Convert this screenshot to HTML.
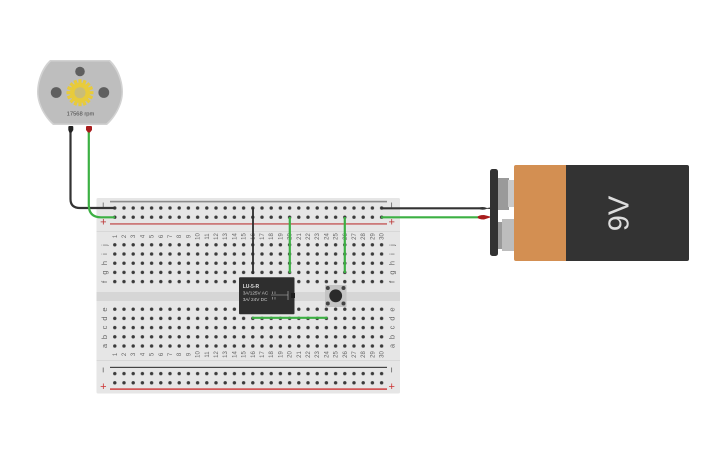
<!DOCTYPE html>
<html><head><meta charset="utf-8"><style>
html,body{margin:0;padding:0;background:#fff;width:725px;height:453px;overflow:hidden}
svg{display:block}
text{font-family:"Liberation Sans",sans-serif}
</style></head><body>
<svg width="725" height="453" viewBox="0 0 725 453" xmlns="http://www.w3.org/2000/svg">
<defs>
<pattern id="h" patternUnits="userSpaceOnUse" x="110.2" y="203.4" width="9.2" height="9.2">
<circle cx="4.6" cy="4.6" r="1.7" fill="#3a3a3a"/>
</pattern>
</defs>
<!-- breadboard -->
<rect x="96.5" y="198" width="303.5" height="195.5" rx="1.5" fill="#e6e6e6"/>
<rect x="96.5" y="292" width="303.5" height="9" fill="#d6d6d6"/>
<rect x="96.5" y="231" width="303.5" height="1" fill="#d8d8d8"/>
<rect x="96.5" y="360" width="303.5" height="1" fill="#d8d8d8"/>
<rect x="110" y="200.800" width="277" height="1.600" fill="#8a8a8a"/>
<rect x="110" y="223" width="277" height="1.800" fill="#cc7a7a"/>
<rect x="110" y="366.800" width="277" height="1.200" fill="#444"/>
<rect x="110" y="388.400" width="277" height="1.400" fill="#cc3333"/>
<rect x="110.200" y="203.400" width="276" height="18.400" fill="url(#h)"/>
<rect x="110.200" y="240.200" width="276" height="46" fill="url(#h)"/>
<rect x="110.200" y="304.600" width="276" height="46" fill="url(#h)"/>
<rect x="110.200" y="369" width="276" height="18.400" fill="url(#h)"/>
<g fill="#555" font-size="10" text-anchor="middle">
<text transform="translate(106.500,205) rotate(-90)">−</text>
<text transform="translate(395,205) rotate(-90)">−</text>
<text transform="translate(106.500,370) rotate(-90)">−</text>
<text transform="translate(395,370) rotate(-90)">−</text>
</g>
<g font-size="11" text-anchor="middle">
<text x="103.300" y="225.500" fill="#b33">+</text>
<text x="391.700" y="225.500" fill="#b33">+</text>
<text x="103.300" y="389.800" fill="#c33">+</text>
<text x="391.700" y="389.800" fill="#c33">+</text>
</g>
<g fill="#666" font-size="7.500" text-anchor="middle">
<text transform="translate(107,245) rotate(-90)">j</text><text transform="translate(107,254) rotate(-90)">i</text><text transform="translate(107,263) rotate(-90)">h</text><text transform="translate(107,272.500) rotate(-90)">g</text><text transform="translate(107,282) rotate(-90)">f</text>
<text transform="translate(107,309.500) rotate(-90)">e</text><text transform="translate(107,318.500) rotate(-90)">d</text><text transform="translate(107,327.500) rotate(-90)">c</text><text transform="translate(107,337) rotate(-90)">b</text><text transform="translate(107,346) rotate(-90)">a</text>
<text transform="translate(394.500,245) rotate(-90)">j</text><text transform="translate(394.500,254) rotate(-90)">i</text><text transform="translate(394.500,263) rotate(-90)">h</text><text transform="translate(394.500,272.500) rotate(-90)">g</text><text transform="translate(394.500,282) rotate(-90)">f</text>
<text transform="translate(394.500,309.500) rotate(-90)">e</text><text transform="translate(394.500,318.500) rotate(-90)">d</text><text transform="translate(394.500,327.500) rotate(-90)">c</text><text transform="translate(394.500,337) rotate(-90)">b</text><text transform="translate(394.500,346) rotate(-90)">a</text>
</g>
<g fill="#666" font-size="6" text-anchor="middle">
<text transform="translate(116.800,236.500) rotate(-90)">1</text><text transform="translate(126,236.500) rotate(-90)">2</text><text transform="translate(135.200,236.500) rotate(-90)">3</text><text transform="translate(144.400,236.500) rotate(-90)">4</text><text transform="translate(153.600,236.500) rotate(-90)">5</text><text transform="translate(162.800,236.500) rotate(-90)">6</text><text transform="translate(172,236.500) rotate(-90)">7</text><text transform="translate(181.200,236.500) rotate(-90)">8</text><text transform="translate(190.400,236.500) rotate(-90)">9</text><text transform="translate(199.600,236.500) rotate(-90)">10</text><text transform="translate(208.800,236.500) rotate(-90)">11</text><text transform="translate(218,236.500) rotate(-90)">12</text><text transform="translate(227.200,236.500) rotate(-90)">13</text><text transform="translate(236.400,236.500) rotate(-90)">14</text><text transform="translate(245.600,236.500) rotate(-90)">15</text><text transform="translate(254.800,236.500) rotate(-90)">16</text><text transform="translate(264,236.500) rotate(-90)">17</text><text transform="translate(273.200,236.500) rotate(-90)">18</text><text transform="translate(282.400,236.500) rotate(-90)">19</text><text transform="translate(291.600,236.500) rotate(-90)">20</text><text transform="translate(300.800,236.500) rotate(-90)">21</text><text transform="translate(310,236.500) rotate(-90)">22</text><text transform="translate(319.200,236.500) rotate(-90)">23</text><text transform="translate(328.400,236.500) rotate(-90)">24</text><text transform="translate(337.600,236.500) rotate(-90)">25</text><text transform="translate(346.800,236.500) rotate(-90)">26</text><text transform="translate(356,236.500) rotate(-90)">27</text><text transform="translate(365.200,236.500) rotate(-90)">28</text><text transform="translate(374.400,236.500) rotate(-90)">29</text><text transform="translate(383.600,236.500) rotate(-90)">30</text>
<text transform="translate(116.800,354.500) rotate(-90)">1</text><text transform="translate(126,354.500) rotate(-90)">2</text><text transform="translate(135.200,354.500) rotate(-90)">3</text><text transform="translate(144.400,354.500) rotate(-90)">4</text><text transform="translate(153.600,354.500) rotate(-90)">5</text><text transform="translate(162.800,354.500) rotate(-90)">6</text><text transform="translate(172,354.500) rotate(-90)">7</text><text transform="translate(181.200,354.500) rotate(-90)">8</text><text transform="translate(190.400,354.500) rotate(-90)">9</text><text transform="translate(199.600,354.500) rotate(-90)">10</text><text transform="translate(208.800,354.500) rotate(-90)">11</text><text transform="translate(218,354.500) rotate(-90)">12</text><text transform="translate(227.200,354.500) rotate(-90)">13</text><text transform="translate(236.400,354.500) rotate(-90)">14</text><text transform="translate(245.600,354.500) rotate(-90)">15</text><text transform="translate(254.800,354.500) rotate(-90)">16</text><text transform="translate(264,354.500) rotate(-90)">17</text><text transform="translate(273.200,354.500) rotate(-90)">18</text><text transform="translate(282.400,354.500) rotate(-90)">19</text><text transform="translate(291.600,354.500) rotate(-90)">20</text><text transform="translate(300.800,354.500) rotate(-90)">21</text><text transform="translate(310,354.500) rotate(-90)">22</text><text transform="translate(319.200,354.500) rotate(-90)">23</text><text transform="translate(328.400,354.500) rotate(-90)">24</text><text transform="translate(337.600,354.500) rotate(-90)">25</text><text transform="translate(346.800,354.500) rotate(-90)">26</text><text transform="translate(356,354.500) rotate(-90)">27</text><text transform="translate(365.200,354.500) rotate(-90)">28</text><text transform="translate(374.400,354.500) rotate(-90)">29</text><text transform="translate(383.600,354.500) rotate(-90)">30</text>
</g>
<!-- motor -->
<path d="M50 60H110C119 68 123 82 123 92C123 105 115 118 107 125H53C45 118 37 105 37 92C37 82 41 68 50 60Z" fill="#d2d2d2"/>
<path d="M51 61.500H109C117 69 121.500 82 121.500 92C121.500 104 114 117 106 123.500H54C46 117 38.500 104 38.500 92C38.500 82 43 69 51 61.500Z" fill="#bebebe"/>
<circle cx="80" cy="71.500" r="4.800" fill="#5f5f5f"/>
<circle cx="56.200" cy="92.500" r="5.400" fill="#5f5f5f"/>
<circle cx="103.800" cy="92.500" r="5.400" fill="#5f5f5f"/>
<circle cx="80" cy="92.700" r="10" fill="#e8cb3b"/>
<g stroke="#e8cb3b" stroke-width="3.200">
<line x1="80" y1="79.200" x2="80" y2="106.200"/><line x1="66.500" y1="92.700" x2="93.500" y2="92.700"/>
<line x1="70.500" y1="83.200" x2="89.500" y2="102.200"/><line x1="89.500" y1="83.200" x2="70.500" y2="102.200"/>
<line x1="74.800" y1="80.200" x2="85.200" y2="105.200"/><line x1="85.200" y1="80.200" x2="74.800" y2="105.200"/>
<line x1="67.500" y1="87.500" x2="92.500" y2="97.900"/><line x1="92.500" y1="87.500" x2="67.500" y2="97.900"/>
</g>
<circle cx="80" cy="92.700" r="5.500" fill="#c9bd78"/>
<text x="80.500" y="115.700" font-size="5.800" text-anchor="middle" fill="#444">17568 rpm</text>
<!-- wires -->
<path d="M70.500 130V199Q70.500 208 80 208H115" fill="none" stroke="#333" stroke-width="2.200"/>
<path d="M88.800 130V205Q88.800 217.300 101 217.300H115" fill="none" stroke="#3cb043" stroke-width="2.200"/>
<path d="M68.300 127Q68.300 126 69.300 126H72.300Q73.300 126 73.300 127V130L71.700 132.500H69.300L68.300 130Z" fill="#222"/>
<path d="M86 127Q86 126 87 126H91Q92 126 92 127V130L90 132.500H88L86 130Z" fill="#a81c1c"/>
<path d="M381 208.300H482" stroke="#333" stroke-width="2.200"/>
<path d="M381 217.300H482" stroke="#3cb043" stroke-width="2.200"/>
<path d="M253 208V274" stroke="#2b2b2b" stroke-width="1.800"/>
<path d="M289.800 217V273" stroke="#3cb043" stroke-width="2.200"/>
<path d="M344.800 217V273" stroke="#3cb043" stroke-width="2.200"/>
<!-- relay -->
<rect x="239" y="277.300" width="55.500" height="37" rx="1" fill="#2e2e2e"/>
<rect x="291" y="293" width="4" height="5" fill="#1e1e1e"/>
<text x="242.700" y="288" font-size="5" font-weight="bold" fill="#ddd">LU-5-R</text>
<text x="242.700" y="294.700" font-size="4.700" fill="#ccc">3A/125V AC</text>
<text x="242.700" y="300.800" font-size="4.700" fill="#ccc">3A/ 24V  DC</text>
<path d="M271 295H288M288 291V300M272.500 291.500V294M275 291.500V294M272.500 297V299.500M275 297V299.500" stroke="#bbb" stroke-width="0.600" fill="none"/>
<!-- green under relay -->
<path d="M252 317.800H327.500" stroke="#3cb043" stroke-width="2.200"/>
<!-- pushbutton -->
<rect x="325" y="285" width="21.500" height="22" fill="#c4c4c4"/>
<circle cx="335.700" cy="295.800" r="6.400" fill="#2a2a2a"/>
<circle cx="327.800" cy="288" r="2" fill="#444"/><circle cx="343.500" cy="288" r="2" fill="#444"/><circle cx="327.800" cy="303.500" r="2" fill="#444"/><circle cx="343.500" cy="303.500" r="2" fill="#444"/>
<!-- battery -->
<rect x="498" y="178" width="11" height="32" fill="#9a9a9a"/>
<rect x="508" y="180" width="6" height="27" fill="#c9c9c9"/>
<rect x="498" y="222" width="5" height="27" fill="#9a9a9a"/>
<rect x="502" y="219" width="12" height="32" fill="#bdbdbd"/>
<path d="M516 165H566V261H516Q514 261 514 259V167Q514 165 516 165Z" fill="#d38f52"/>
<path d="M566 165H687Q689 165 689 167V259Q689 261 687 261H566Z" fill="#333"/>
<text transform="translate(628.500,213.500) rotate(-90)" font-size="29" text-anchor="middle" fill="#ddd">9V</text>
<rect x="490" y="169" width="8" height="87" rx="2.500" fill="#333"/>
<path d="M478 208.300Q482 205.800 487 208L490 207.500V209L487 208.800Q482 211 478 208.300Z" fill="#333"/>
<path d="M477.500 217.300Q478 215 484 215L490 216.500V217.500L484 219.500Q478 219.500 477.500 217.300Z" fill="#a81c1c"/>
</svg>
</body></html>
